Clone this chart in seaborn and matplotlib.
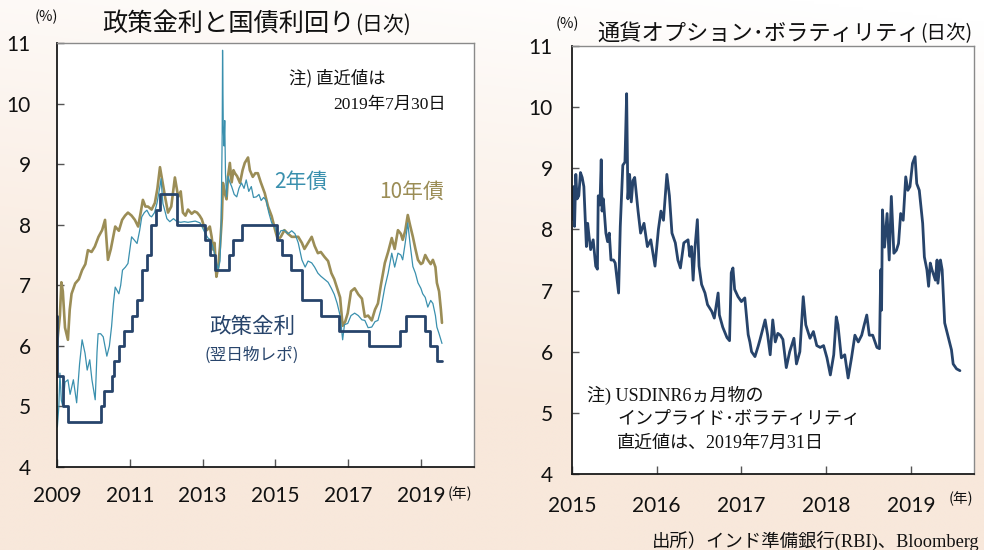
import numpy as np
import matplotlib
matplotlib.use("Agg")
import matplotlib.pyplot as plt
import seaborn as sns

# ---------------- data ----------------
# Left panel (decimal year, %)
policy_x = [2009.00, 2009.01, 2009.17, 2009.30, 2010.21, 2010.30, 2010.50, 2010.57, 2010.71, 2010.84,
            2011.07, 2011.21, 2011.34, 2011.46, 2011.57, 2011.71, 2011.82, 2012.29, 2013.08, 2013.21,
            2013.34, 2013.72, 2013.83, 2014.08, 2015.04, 2015.17, 2015.42, 2015.74, 2016.26, 2016.76,
            2017.58, 2018.43, 2018.58, 2019.10, 2019.26, 2019.43, 2019.58]
policy_y = [6.5, 5.5, 5.0, 4.75, 5.0, 5.25, 5.5, 5.75, 6.0, 6.25,
            6.5, 6.75, 7.25, 7.5, 8.0, 8.25, 8.5, 8.0, 7.75, 7.5,
            7.25, 7.5, 7.75, 8.0, 7.75, 7.5, 7.25, 6.75, 6.5, 6.25,
            6.0, 6.25, 6.5, 6.25, 6.0, 5.75, 5.75]

y10_x = [2009.00, 2009.03, 2009.08, 2009.12, 2009.16, 2009.22, 2009.30, 2009.35, 2009.40, 2009.50,
         2009.60, 2009.69, 2009.78, 2009.85, 2009.95, 2010.04, 2010.14, 2010.24, 2010.32, 2010.40,
         2010.48, 2010.60, 2010.70, 2010.79, 2010.87, 2010.95, 2011.05, 2011.14, 2011.23, 2011.30,
         2011.36, 2011.43, 2011.50, 2011.60, 2011.69, 2011.76, 2011.83, 2011.90, 2011.97, 2012.05,
         2012.14, 2012.24, 2012.33, 2012.40, 2012.46, 2012.53, 2012.60, 2012.70, 2012.78, 2012.85,
         2012.92, 2012.98, 2013.05, 2013.12, 2013.20, 2013.25, 2013.29, 2013.33, 2013.38, 2013.43,
         2013.48, 2013.53, 2013.56, 2013.62, 2013.66, 2013.70, 2013.75, 2013.80, 2013.85, 2013.89,
         2013.95, 2014.03, 2014.10, 2014.16, 2014.25, 2014.30, 2014.38, 2014.45, 2014.52, 2014.60,
         2014.71, 2014.80, 2014.90, 2015.00, 2015.07, 2015.15, 2015.25, 2015.35, 2015.45, 2015.54,
         2015.63, 2015.73, 2015.80, 2015.90, 2016.00, 2016.08, 2016.17, 2016.25, 2016.35, 2016.45,
         2016.54, 2016.62, 2016.70, 2016.78, 2016.85, 2016.92, 2016.99, 2017.08, 2017.18, 2017.28,
         2017.38, 2017.46, 2017.55, 2017.65, 2017.74, 2017.82, 2017.90, 2018.01, 2018.10, 2018.20,
         2018.28, 2018.37, 2018.45, 2018.50, 2018.57, 2018.64, 2018.70, 2018.78, 2018.85, 2018.92,
         2019.00, 2019.05, 2019.12, 2019.19, 2019.27, 2019.33, 2019.40, 2019.44, 2019.50, 2019.55,
         2019.58]
y10_y = [6.0, 6.2, 6.5, 7.05, 6.9, 6.3, 6.1, 6.6, 6.86, 7.03,
         7.1, 7.25, 7.35, 7.58, 7.55, 7.64, 7.8, 7.91, 8.08, 7.42,
         7.6, 7.97, 7.9, 8.08, 8.15, 8.2, 8.15, 8.08, 7.97, 8.2,
         8.41, 8.3, 8.3, 8.25, 8.36, 8.6, 8.95, 8.7, 8.46, 8.2,
         8.3, 8.78, 8.46, 8.55, 8.2, 8.15, 8.25, 8.18, 8.22, 8.2,
         8.15, 8.09, 7.95, 7.91, 7.97, 7.8, 7.59, 7.7, 7.14, 7.3,
         7.64, 8.1, 8.69, 8.5, 8.42, 8.8, 9.02, 8.7, 8.9, 8.85,
         8.8, 8.69, 8.9, 9.02, 9.11, 8.9, 8.79, 8.85, 8.85, 8.7,
         8.52, 8.3, 8.14, 7.9, 7.75, 7.8, 7.91, 7.85, 7.8, 7.8,
         7.8, 7.7, 7.6, 7.7, 7.8, 7.65, 7.53, 7.55, 7.47, 7.4,
         7.2, 7.1, 6.95, 6.8, 6.33, 6.4, 6.54, 6.9, 6.95, 6.85,
         6.78, 6.48, 6.5, 6.42, 6.6, 6.7, 7.0, 7.37, 7.55, 7.78,
         7.6, 7.91, 7.85, 7.75, 7.9, 8.16, 8.0, 7.8, 7.6, 7.42,
         7.35, 7.37, 7.5, 7.42, 7.35, 7.42, 7.3, 7.04, 6.9, 6.6,
         6.38]

y2_x = [2009.00, 2009.01, 2009.05, 2009.08, 2009.12, 2009.16, 2009.22, 2009.30, 2009.36, 2009.45,
        2009.54, 2009.62, 2009.69, 2009.77, 2009.83, 2009.90, 2009.96, 2010.05, 2010.10, 2010.13,
        2010.20, 2010.27, 2010.37, 2010.44, 2010.50, 2010.55, 2010.60, 2010.70, 2010.75, 2010.80,
        2010.88, 2010.95, 2011.05, 2011.12, 2011.20, 2011.27, 2011.33, 2011.40, 2011.47, 2011.55,
        2011.60, 2011.68, 2011.75, 2011.82, 2011.86, 2011.91, 2011.96, 2012.02, 2012.10, 2012.20,
        2012.30, 2012.40, 2012.50, 2012.60, 2012.70, 2012.80, 2012.93, 2013.00, 2013.07, 2013.15,
        2013.22, 2013.30, 2013.34, 2013.43, 2013.48, 2013.51, 2013.54, 2013.55, 2013.57, 2013.59,
        2013.61, 2013.63, 2013.66, 2013.70, 2013.75, 2013.80, 2013.87, 2013.94, 2014.00, 2014.07,
        2014.14, 2014.20, 2014.27, 2014.34, 2014.40, 2014.48, 2014.55, 2014.61, 2014.68, 2014.75,
        2014.82, 2014.90, 2015.00, 2015.07, 2015.15, 2015.25, 2015.35, 2015.45, 2015.54, 2015.63,
        2015.73, 2015.82, 2015.90, 2016.00, 2016.08, 2016.17, 2016.25, 2016.35, 2016.45, 2016.54,
        2016.62, 2016.70, 2016.78, 2016.85, 2016.90, 2016.99, 2017.08, 2017.18, 2017.28, 2017.38,
        2017.46, 2017.55, 2017.65, 2017.74, 2017.82, 2017.90, 2018.01, 2018.10, 2018.20, 2018.28,
        2018.37, 2018.45, 2018.50, 2018.57, 2018.64, 2018.70, 2018.78, 2018.85, 2018.92, 2019.00,
        2019.05, 2019.12, 2019.19, 2019.27, 2019.33, 2019.40, 2019.44, 2019.50, 2019.55, 2019.58]
y2_y = [5.2, 4.66, 5.0, 5.55, 5.1, 5.0, 5.4, 5.44, 5.2, 5.44,
        5.06, 5.7, 6.1, 5.88, 5.6, 5.77, 5.44, 5.11, 5.9, 6.2,
        6.2, 6.15, 5.83, 6.0, 6.32, 6.7, 6.97, 6.86, 7.0, 7.25,
        7.3, 7.36, 7.8, 7.75, 7.69, 7.9, 8.13, 8.2, 8.24, 8.15,
        8.13, 8.2, 8.36, 8.6, 8.76, 8.35, 8.24, 8.1, 8.05, 8.1,
        8.05, 8.04, 8.05, 8.04, 8.05, 8.06, 8.03, 7.95, 7.86, 7.78,
        7.75, 7.6, 7.48, 7.26, 7.4, 7.97, 9.5, 10.88, 9.6, 9.3,
        9.72, 8.85, 8.46, 8.8, 8.7, 8.63, 8.5, 8.46, 8.6, 8.69,
        8.6, 8.74, 8.55, 8.63, 8.45, 8.46, 8.5, 8.4, 8.45, 8.4,
        8.2, 8.03, 7.95, 7.8, 7.9, 7.91, 7.85, 7.9, 7.85, 7.7,
        7.42, 7.3, 7.4, 7.37, 7.3, 7.2, 7.15, 7.1, 7.05, 6.95,
        6.85, 6.7, 6.5, 6.1, 6.35, 6.37, 6.5, 6.54, 6.5, 6.43,
        6.42, 6.3, 6.31, 6.4, 6.42, 6.6, 6.97, 7.2, 7.53, 7.3,
        7.53, 7.5, 7.42, 7.7, 8.03, 7.7, 7.31, 7.2, 7.04, 6.95,
        6.86, 6.8, 6.64, 6.75, 6.7, 6.5, 6.31, 6.2, 6.1, 6.04]

# Right panel: USDINR 6M implied volatility (decimal year, %)
vol_x = [2015.00, 2015.01, 2015.015, 2015.02, 2015.03, 2015.045, 2015.06, 2015.08, 2015.10, 2015.12,
         2015.14, 2015.17, 2015.185, 2015.20, 2015.22, 2015.25, 2015.28, 2015.30, 2015.31, 2015.33,
         2015.345, 2015.355, 2015.37, 2015.40, 2015.42, 2015.44, 2015.46, 2015.49, 2015.51, 2015.55,
         2015.57, 2015.60, 2015.625, 2015.645, 2015.66, 2015.68, 2015.70, 2015.72, 2015.74, 2015.78,
         2015.81, 2015.85, 2015.89, 2015.93, 2015.98, 2016.02, 2016.05, 2016.08, 2016.12, 2016.15,
         2016.18, 2016.22, 2016.25, 2016.28, 2016.32, 2016.37, 2016.39, 2016.41, 2016.43, 2016.45,
         2016.48, 2016.50, 2016.53, 2016.57, 2016.60, 2016.65, 2016.68, 2016.71, 2016.725, 2016.74,
         2016.78, 2016.83, 2016.86, 2016.88, 2016.90, 2016.92, 2016.96, 2017.00, 2017.04, 2017.08,
         2017.10, 2017.12, 2017.16, 2017.20, 2017.22, 2017.28, 2017.31, 2017.34, 2017.37, 2017.40,
         2017.43, 2017.46, 2017.49, 2017.53, 2017.57, 2017.62, 2017.65, 2017.69, 2017.73, 2017.76,
         2017.81, 2017.85, 2017.89, 2017.93, 2017.97, 2018.01, 2018.05, 2018.09, 2018.12, 2018.14,
         2018.18, 2018.22, 2018.26, 2018.30, 2018.34, 2018.38, 2018.42, 2018.45, 2018.48, 2018.51,
         2018.55, 2018.60, 2018.63, 2018.645, 2018.655, 2018.665, 2018.69, 2018.72, 2018.745, 2018.77,
         2018.80, 2018.83, 2018.855, 2018.88, 2018.91, 2018.94, 2018.965, 2018.99, 2019.02, 2019.05,
         2019.07, 2019.10, 2019.12, 2019.14, 2019.16, 2019.19, 2019.21, 2019.23, 2019.25, 2019.29,
         2019.31, 2019.32, 2019.35, 2019.37, 2019.40, 2019.44, 2019.48, 2019.50, 2019.54, 2019.58]
vol_y = [8.3, 8.6, 8.16, 8.7, 8.05, 8.9, 8.5, 8.55, 8.93, 8.85,
         8.7, 7.72, 8.1, 7.9, 7.67, 7.83, 7.4, 7.35, 8.55, 8.4,
         9.14, 8.3, 8.5, 7.94, 7.8, 7.94, 7.5, 7.5, 7.45, 6.96,
         8.05, 9.05, 9.1, 10.22, 8.5, 8.9, 8.45, 8.8, 8.85, 8.3,
         7.94, 8.1, 7.72, 7.83, 7.4, 8.0, 8.3, 8.15, 8.9, 8.55,
         7.94, 7.78, 7.5, 7.37, 7.78, 7.83, 7.56, 7.72, 7.17, 7.67,
         8.16, 7.4, 7.1, 6.96, 6.77, 6.66, 6.55, 6.82, 6.96, 6.6,
         6.4, 6.23, 6.18, 7.29, 7.37, 7.02, 6.9, 6.82, 6.88, 6.28,
         6.16, 6.0, 5.92, 6.1, 6.2, 6.52, 6.27, 5.95, 6.52, 6.16,
         6.3, 6.27, 6.2, 5.74, 6.0, 6.22, 5.8, 6.0, 6.9, 6.44,
         6.22, 6.33, 6.1, 6.07, 6.1, 5.9, 5.62, 5.95, 6.57, 6.44,
         5.9, 5.95, 5.57, 5.9, 6.27, 6.16, 6.27, 6.44, 6.6, 6.27,
         6.27, 6.07, 6.05, 7.34, 6.68, 8.32, 7.71, 8.26, 7.5, 8.54,
         7.61, 7.66, 7.77, 8.26, 8.15, 8.86, 8.64, 8.7, 9.08, 9.19,
         8.75, 8.64, 8.37, 8.1, 7.55, 7.34, 7.07, 7.45, 7.34, 7.17,
         7.5, 7.12, 7.5, 7.34, 6.47, 6.25, 6.03, 5.8, 5.72, 5.69]

left_xticks = [2009, 2011, 2013, 2015, 2017, 2019]
right_xticks = [2015, 2016, 2017, 2018, 2019]
yticks = [4, 5, 6, 7, 8, 9, 10, 11]

# ---------------- style ----------------
sns.set_style("white")
plt.rcParams['font.family'] = ['Lato', 'Noto Sans CJK JP', 'DejaVu Sans']
JP = ['Noto Sans CJK JP', 'DejaVu Sans']
SERIF_JP = ['Liberation Serif', 'Noto Sans CJK JP']

NAVY = '#27446b'
TEAL = '#3a90ae'
OLIVE = '#9b8d56'

W, H = 984, 550
fig = plt.figure(figsize=(W / 100, H / 100), dpi=100)

def fx(px):
    return px / W

def fy(py):
    return 1 - py / H

# gradient background
bg = fig.add_axes([0, 0, 1, 1], zorder=-10)
yy, xx = np.mgrid[0:1:200j, 0:1:200j]
t = np.clip(yy * 1.25 + (1 - xx) * 0.25 - 0.05, 0, 1) ** 0.9
top = np.array([1.0, 1.0, 1.0])
bot = np.array([248, 232, 219]) / 255
img = top[None, None, :] * (1 - t[..., None]) + bot[None, None, :] * t[..., None]
bg.imshow(img, aspect='auto', extent=[0, 1, 0, 1], origin='upper')
bg.axis('off')

def style_axes(ax):
    ax.set_facecolor('white')
    for s in ['left', 'bottom']:
        ax.spines[s].set_color('#1a1a1a')
        ax.spines[s].set_linewidth(1.3)
    for s in ['top', 'right']:
        ax.spines[s].set_color('#8a8a8a')
        ax.spines[s].set_linewidth(1.0)
        ax.spines[s].set_visible(True)
    ax.set_ylim(4, 11)
    ax.set_yticks(yticks)
    ax.set_xlabel('')
    ax.set_ylabel('')
    ax.tick_params(axis='y', direction='in', length=5, width=1, color='#555555',
                   labelsize=15, labelcolor='#111111', left=True, right=False)
    ax.tick_params(axis='x', direction='in', length=6, width=1, color='#555555',
                   labelsize=15, labelcolor='#111111', bottom=True, top=False)
    if ax.get_legend() is not None:
        ax.get_legend().remove()

# ---------------- left panel ----------------
axL = fig.add_axes([fx(57), fy(467), fx(474) - fx(57), fy(43) - fy(467)])
sns.lineplot(x=y10_x, y=y10_y, ax=axL, color=OLIVE, lw=1.9, sort=False, estimator=None)
sns.lineplot(x=y2_x, y=y2_y, ax=axL, color=TEAL, lw=0.9, sort=False, estimator=None)
sns.lineplot(x=policy_x, y=policy_y, ax=axL, color=NAVY, lw=2.0, sort=False,
             estimator=None, drawstyle='steps-post')
axL.set_xlim(2009, 2020.46)
axL.set_xticks(left_xticks)
axL.set_xticklabels([str(v) for v in left_xticks])
style_axes(axL)
axL.tick_params(axis='y', pad=19)
axL.tick_params(axis='x', pad=14)

# ---------------- right panel ----------------
axR = fig.add_axes([fx(572), fy(474), fx(974) - fx(572), fy(46) - fy(474)])
sns.lineplot(x=vol_x, y=vol_y, ax=axR, color=NAVY, lw=2.0, sort=False, estimator=None)
axR.set_xlim(2015, 2019.746)
axR.set_xticks(right_xticks)
axR.set_xticklabels([str(v) for v in right_xticks])
style_axes(axR)
axR.tick_params(axis='y', pad=14)
axR.tick_params(axis='x', pad=16)

# ---------------- titles ----------------
renderer = fig.canvas.get_renderer()

def two_part_title(px, py, big, small, big_size, small_size):
    t1 = fig.text(fx(px), fy(py), big, family=JP, fontsize=big_size, ha='left', va='center',
                  color='#111111')
    bb = t1.get_window_extent(renderer)
    fig.text(bb.x1 / W + 0.001, fy(py + 1), small, family=JP, fontsize=small_size, ha='left',
             va='center', color='#111111')

two_part_title(102, 24, '政策金利と国債利回り', '(日次)', 18.2, 15)
two_part_title(597, 33, '通貨オプション･ボラティリティ', '(日次)', 16, 14)

fig.text(fx(46), fy(17), '(%)', family=JP, fontsize=10.5, ha='center', va='center', color='#111111')
fig.text(fx(567), fy(24), '(%)', family=JP, fontsize=10.5, ha='center', va='center', color='#111111')
fig.text(fx(460), fy(494), '(年)', family=JP, fontsize=10.5, ha='center', va='center', color='#111111')
fig.text(fx(961), fy(499), '(年)', family=JP, fontsize=10.5, ha='center', va='center', color='#111111')

# ---------------- annotations ----------------
fig.text(fx(289), fy(78), '注) 直近値は', family=JP, fontsize=12.5, ha='left', va='center',
         color='#111111')
fig.text(fx(446), fy(105), '2019年7月30日', family=SERIF_JP, fontsize=12.5, ha='right', va='center',
         color='#111111')
fig.text(fx(274), fy(182), '2年債', family=JP, fontsize=15, ha='left', va='center', color=TEAL)
fig.text(fx(379), fy(192), '10年債', family=JP, fontsize=15, ha='left', va='center', color=OLIVE)
fig.text(fx(252), fy(327), '政策金利', family=JP, fontsize=15.5, ha='center', va='center', color=NAVY)
fig.text(fx(252), fy(355), '(翌日物レポ)', family=JP, fontsize=12, ha='center', va='center', color=NAVY)

fig.text(fx(587), fy(395), '注) USDINR6ヵ月物の', family=SERIF_JP, fontsize=13, ha='left',
         va='center', color='#111111')
fig.text(fx(617), fy(419), 'インプライド･ボラティリティ', family=SERIF_JP, fontsize=13, ha='left',
         va='center', color='#111111')
fig.text(fx(617), fy(443), '直近値は、2019年7月31日', family=SERIF_JP, fontsize=13, ha='left',
         va='center', color='#111111')

fig.text(fx(652), fy(541), '出所）インド準備銀行(RBI)、Bloomberg', family=SERIF_JP, fontsize=13.2,
         ha='left', va='center', color='#111111')

fig.savefig('out.png', dpi=100)
